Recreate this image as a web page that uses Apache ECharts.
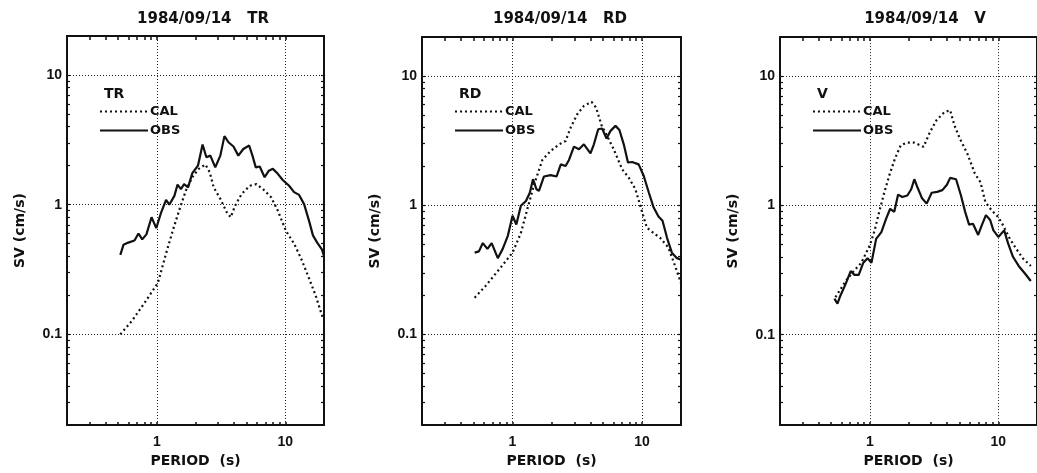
<!DOCTYPE html>
<html>
<head>
<meta charset="utf-8">
<script src="https://cdn.jsdelivr.net/npm/echarts@6/dist/echarts.min.js"></script>
<style>
html,body{margin:0;padding:0;background:#fff;}
#chart{width:1037px;height:473px;}
</style>
</head>
<body>
<div id="chart"></div>
<script>
// ---- data ----
var panelTitles = ['1984/09/14   TR', '1984/09/14   RD', '1984/09/14   V'];
var componentLabels = ['TR', 'RD', 'V'];
var seriesNames = ['CAL', 'OBS'];

var xTickLabels = [1, 10];
var yTickLabels = [0.1, 1, 10];
var xMinorTicks = [0.3, 0.4, 0.5, 0.6, 0.7, 0.8, 0.9, 1, 2, 3, 4, 5, 6, 7, 8, 9, 10];
var yMinorTicks = [0.03, 0.04, 0.05, 0.06, 0.07, 0.08, 0.09, 0.1, 0.2, 0.3, 0.4, 0.5, 0.6, 0.7, 0.8, 0.9, 1, 2, 3, 4, 5, 6, 7, 8, 9, 10];
var xGridValues = [1, 10];
var yGridValues = [0.1, 1, 10];

var trObsT = [0.52,0.55,0.60,0.67,0.72,0.77,0.83,0.91,0.99,1.08,1.18,1.25,1.37,1.45,1.54,1.63,1.75,1.89,2.09,2.27,2.43,2.61,2.85,3.12,3.36,3.61,3.95,4.31,4.71,5.23,5.55,5.89,6.32,6.90,7.45,8.0,8.74,9.55,10.7,11.7,12.8,14.0,15.3,16.4,17.7,19.3,20];
var trObsV = [0.41,0.49,0.51,0.53,0.60,0.54,0.59,0.80,0.66,0.87,1.09,1.0,1.17,1.43,1.32,1.44,1.36,1.75,2.0,2.91,2.32,2.39,1.94,2.39,3.38,3.03,2.81,2.39,2.69,2.86,2.39,1.94,1.97,1.63,1.83,1.89,1.73,1.55,1.40,1.25,1.19,1.01,0.75,0.58,0.51,0.45,0.40];
var trCalT = [0.52,0.64,0.79,1.02,1.18,1.33,1.49,1.68,1.89,2.12,2.39,2.58,2.77,3.12,3.51,3.76,4.06,4.57,5.3,5.96,6.7,7.76,8.74,10.1,11.7,13.2,15.3,17.2,19.3,20];
var trCalV = [0.10,0.127,0.171,0.25,0.42,0.63,0.90,1.28,1.63,1.89,2.04,1.78,1.36,1.11,0.87,0.80,0.98,1.21,1.40,1.44,1.32,1.14,0.90,0.63,0.50,0.39,0.27,0.20,0.14,0.13];

var rdObsT = [0.51,0.55,0.59,0.64,0.69,0.77,0.84,0.92,1.0,1.07,1.16,1.27,1.36,1.44,1.53,1.60,1.75,1.97,2.19,2.36,2.57,2.73,2.98,3.26,3.56,4.0,4.25,4.59,4.92,5.32,5.71,6.24,6.69,7.23,7.79,8.38,9.42,10.3,11.3,12.3,13.4,14.4,15.6,17.0,18.6,20];
var rdObsV = [0.43,0.44,0.51,0.46,0.51,0.39,0.46,0.58,0.83,0.71,0.99,1.08,1.25,1.59,1.33,1.29,1.67,1.71,1.67,2.07,2.01,2.24,2.84,2.71,2.96,2.52,2.96,3.87,3.92,3.28,3.76,4.11,3.82,2.96,2.14,2.16,2.07,1.69,1.25,0.96,0.82,0.76,0.56,0.43,0.39,0.38];
var rdCalT = [0.51,0.62,0.79,1.0,1.16,1.30,1.47,1.70,1.97,2.29,2.57,2.81,3.16,3.56,4.08,4.42,4.87,5.38,6.05,7.02,7.89,8.89,9.88,10.9,12.3,13.8,16.0,18.0,20];
var rdCalV = [0.193,0.238,0.32,0.43,0.61,0.93,1.45,2.24,2.63,2.96,3.14,3.99,5.05,5.87,6.30,5.69,4.15,3.44,2.71,1.90,1.64,1.33,0.93,0.67,0.61,0.56,0.47,0.34,0.25];

var vObsT = [0.53,0.56,0.59,0.65,0.71,0.76,0.82,0.89,0.96,1.03,1.12,1.23,1.34,1.44,1.55,1.66,1.79,1.96,2.10,2.22,2.36,2.54,2.77,3.03,3.34,3.67,3.98,4.22,4.69,5.12,5.52,5.92,6.35,6.97,7.47,8.01,8.64,9.16,10.0,11.1,11.9,13.0,14.4,16.0,17.9];
var vObsV = [0.19,0.174,0.20,0.248,0.31,0.29,0.29,0.36,0.39,0.36,0.55,0.62,0.79,0.94,0.89,1.21,1.16,1.19,1.33,1.59,1.36,1.14,1.03,1.25,1.27,1.31,1.44,1.63,1.59,1.19,0.89,0.71,0.72,0.59,0.71,0.84,0.77,0.64,0.57,0.64,0.51,0.40,0.34,0.30,0.26];
var vCalT = [0.54,0.65,0.75,0.86,1.0,1.09,1.19,1.30,1.42,1.57,1.74,1.96,2.22,2.62,2.94,3.30,3.82,4.22,4.55,5.02,5.74,6.57,7.26,7.93,8.90,10.0,10.9,12.3,13.8,15.5,17.9];
var vCalV = [0.195,0.26,0.31,0.36,0.49,0.64,0.91,1.27,1.71,2.30,2.91,3.05,3.05,2.83,3.69,4.54,5.27,5.43,4.16,3.28,2.51,1.76,1.51,1.06,0.91,0.81,0.70,0.55,0.46,0.39,0.34];

function pairs(t, v) { return t.map(function (x, i) { return [x, v[i]]; }); }

var panelData = [
  { cal: pairs(trCalT, trCalV), obs: pairs(trObsT, trObsV) },
  { cal: pairs(rdCalT, rdCalV), obs: pairs(rdObsT, rdObsV) },
  { cal: pairs(vCalT, vCalV), obs: pairs(vObsT, vObsV) }
];

// ---- layout / style ----
var grids = [
  { left: 67, top: 36, width: 257, height: 389 },
  { left: 422, top: 37, width: 259, height: 388 },
  { left: 780, top: 37, width: 262, height: 389 }
];
var titleCenters = [198, 555, 920];
var ink = '#111';
var boldFont = 'DejaVu Sans';
var tickFont = 'Liberation Sans';

var option = {
  backgroundColor: '#fff',
  animation: false,
  color: [ink, ink],
  title: [],
  legend: [],
  grid: [],
  xAxis: [],
  yAxis: [],
  series: []
};

grids.forEach(function (g, i) {
  option.grid.push({ left: g.left, top: g.top, width: g.width, height: g.height, containLabel: false });
  option.title.push({
    text: panelTitles[i], left: titleCenters[i], top: 7, textAlign: 'center',
    textStyle: { fontFamily: boldFont, fontWeight: 'bold', fontSize: 15, color: ink }
  });
  option.title.push({
    text: componentLabels[i], left: g.left + 32, top: 82,
    textStyle: { fontFamily: boldFont, fontWeight: 'bold', fontSize: 14, color: ink }
  });
  option.legend.push({
    data: seriesNames, orient: 'vertical', left: g.left + 27, top: 100,
    itemWidth: 48, itemHeight: 14, itemGap: 6, selectedMode: false,
    itemStyle: { opacity: 0, borderWidth: 0 },
    textStyle: { fontFamily: boldFont, fontWeight: 'bold', fontSize: 13, color: ink, padding: [0, 0, 0, -3] }
  });
  var axisLine = { show: true, onZero: false, lineStyle: { color: ink, width: 2 } };
  // bottom x
  option.xAxis.push({
    type: 'log', logBase: 10, min: 0.2, max: 20, gridIndex: i, position: 'bottom',
    name: 'PERIOD  (s)', nameLocation: 'middle', nameGap: 28,
    nameTextStyle: { fontFamily: boldFont, fontWeight: 'bold', fontSize: 14, color: ink },
    axisLine: axisLine,
    axisTick: { show: true, inside: true, length: 3, customValues: xMinorTicks, lineStyle: { color: ink, width: 1.5 } },
    axisLabel: { show: true, customValues: xTickLabels, margin: 10, fontFamily: tickFont, fontWeight: 'bold', fontSize: 14, color: ink },
    splitLine: { show: false }, minorTick: { show: false }
  });
  // top x
  option.xAxis.push({
    type: 'log', logBase: 10, min: 0.2, max: 20, gridIndex: i, position: 'top',
    axisLine: axisLine,
    axisTick: { show: true, inside: true, length: 4, customValues: xMinorTicks, lineStyle: { color: ink, width: 1.5 } },
    axisLabel: { show: false }, splitLine: { show: false }
  });
  // left y
  option.yAxis.push({
    type: 'log', logBase: 10, min: 0.02, max: 20, gridIndex: i, position: 'left',
    name: 'SV (cm/s)', nameLocation: 'middle', nameGap: 40,
    nameTextStyle: { fontFamily: boldFont, fontWeight: 'bold', fontSize: 14, color: ink },
    axisLine: axisLine,
    axisTick: { show: true, inside: true, length: 3, customValues: yMinorTicks, lineStyle: { color: ink, width: 1.2 } },
    axisLabel: { show: true, customValues: yTickLabels, margin: 5, fontFamily: tickFont, fontWeight: 'bold', fontSize: 14, color: ink },
    splitLine: { show: false }, minorTick: { show: false }
  });
  // right y
  option.yAxis.push({
    type: 'log', logBase: 10, min: 0.02, max: 20, gridIndex: i, position: 'right',
    axisLine: axisLine,
    axisTick: { show: true, inside: true, length: 3, customValues: yMinorTicks, lineStyle: { color: ink, width: 1.2 } },
    axisLabel: { show: false }, splitLine: { show: false }
  });

  var gridMarks = xGridValues.map(function (v) { return { xAxis: v }; })
    .concat(yGridValues.map(function (v) { return { yAxis: v }; }));

  option.series.push({
    name: 'CAL', type: 'line', xAxisIndex: 2 * i, yAxisIndex: 2 * i,
    data: panelData[i].cal, symbol: 'none', smooth: false, z: 3,
    itemStyle: { color: ink },
    lineStyle: { color: ink, width: 2.2, type: [2, 3], cap: 'butt' },
    markLine: {
      silent: true, symbol: ['none', 'none'], label: { show: false }, z: 1,
      lineStyle: { color: '#222', width: 1, type: [1, 2] },
      emphasis: { disabled: true },
      data: gridMarks
    }
  });
  option.series.push({
    name: 'OBS', type: 'line', xAxisIndex: 2 * i, yAxisIndex: 2 * i,
    data: panelData[i].obs, symbol: 'none', smooth: false, z: 4,
    itemStyle: { color: ink },
    lineStyle: { color: ink, width: 2.2, type: 'solid' }
  });
});

var chart = echarts.init(document.getElementById('chart'), null, { renderer: 'canvas' });
chart.setOption(option);
</script>
</body>
</html>
